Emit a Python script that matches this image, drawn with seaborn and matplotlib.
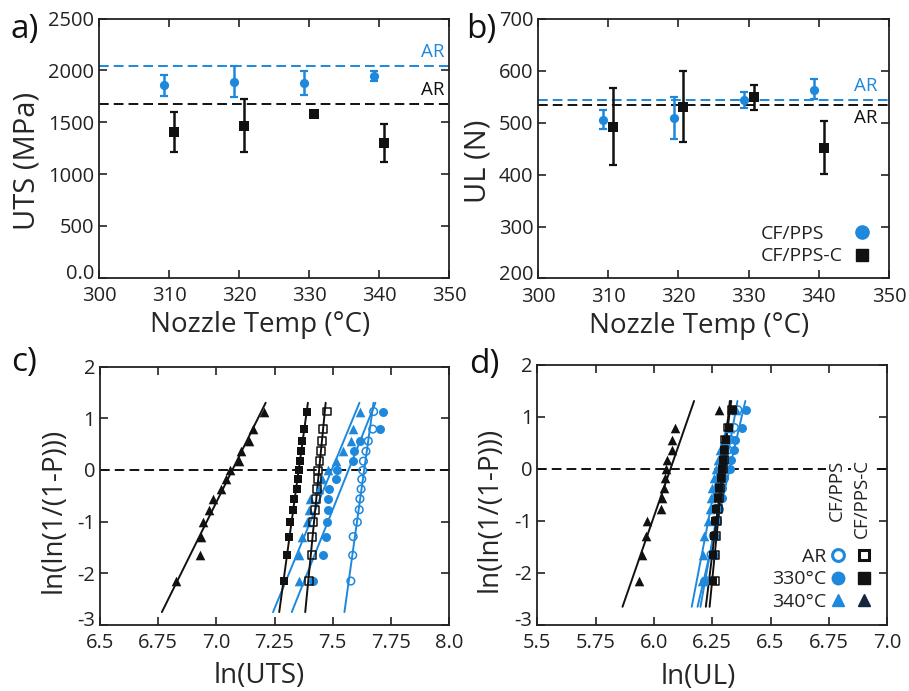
import numpy as np
import pandas as pd
import matplotlib
matplotlib.use("Agg")
import matplotlib.pyplot as plt
import matplotlib.transforms as mtransforms
import seaborn as sns
from matplotlib.lines import Line2D

blue = "#1d88dc"
black = "#111111"

# a) and b): nozzle temperature series
temps = [310, 320, 330, 340]
uts_pps = [1856, 1891, 1875, 1949]
uts_pps_lo = [1749, 1740, 1759, 1895]
uts_pps_hi = [1955, 2039, 1991, 1995]
uts_ppsc = [1411, 1466, 1582, 1298]
uts_ppsc_lo = [1218, 1218, 1582, 1121]
uts_ppsc_hi = [1604, 1723, 1582, 1485]
uts_ar = [2042, 1672]  # CF/PPS, CF/PPS-C

ul_pps = [505, 509, 543, 563]
ul_pps_lo = [487, 469, 528, 545]
ul_pps_hi = [525, 550, 558, 584]
ul_ppsc = [491, 530, 549, 452]
ul_ppsc_lo = [419, 462, 525, 401]
ul_ppsc_hi = [566, 599, 572, 504]
ul_ar = [544, 534]

# c) and d): weibull plots, y = ln(ln(1/(1-P)))
rank_y = [-2.15, -1.65, -1.29, -1.01, -0.77, -0.56, -0.37, -0.18, -0.01, 0.17, 0.36, 0.56, 0.79, 1.13]

c_pps_ar = [7.578, 7.586, 7.588, 7.606, 7.614, 7.617, 7.622, 7.625, 7.629, 7.632, 7.643, 7.653, 7.672, 7.676]
c_pps_330 = [7.417, 7.460, 7.471, 7.474, 7.479, 7.481, 7.485, 7.514, 7.517, 7.586, 7.592, 7.617, 7.703, 7.717]
c_pps_340 = [7.355, 7.357, 7.367, 7.390, 7.397, 7.404, 7.440, 7.453, 7.481, 7.515, 7.546, 7.577, 7.586, 7.617]
c_ppsc_ar = [7.400, 7.410, 7.412, 7.417, 7.424, 7.428, 7.431, 7.435, 7.438, 7.443, 7.449, 7.453, 7.457, 7.477]
c_ppsc_330 = [7.291, 7.305, 7.312, 7.317, 7.331, 7.335, 7.345, 7.352, 7.356, 7.359, 7.364, 7.370, 7.378, 7.388]
c_ppsc_340 = [6.827, 6.930, 6.933, 6.941, 6.968, 6.987, 7.019, 7.041, 7.059, 7.099, 7.105, 7.142, 7.159, 7.205]

d_pps_ar = [6.225, 6.245, 6.255, 6.265, 6.272, 6.280, 6.287, 6.294, 6.300, 6.310, 6.318, 6.328, 6.345, 6.360]
d_pps_330 = [6.213, 6.256, 6.262, 6.270, 6.281, 6.291, 6.293, 6.301, 6.327, 6.330, 6.344, 6.347, 6.377, 6.395]
d_pps_340 = [6.205, 6.212, 6.214, 6.234, 6.241, 6.244, 6.248, 6.256, 6.265, 6.275, 6.285, 6.300, 6.325, 6.350]
d_ppsc_ar = [6.262, 6.262, 6.268, 6.270, 6.275, 6.280, 6.285, 6.290, 6.296, 6.300, 6.303, 6.306, 6.318, 6.334]
d_ppsc_330 = [6.252, 6.252, 6.258, 6.262, 6.268, 6.274, 6.280, 6.286, 6.292, 6.298, 6.302, 6.310, 6.322, 6.340]
d_ppsc_340 = [5.937, 5.949, 5.967, 5.970, 6.030, 6.035, 6.042, 6.049, 6.053, 6.058, 6.077, 6.077, 6.092, 6.277]

c_xticks = [6.5, 6.75, 7.0, 7.25, 7.5, 7.75, 8.0]
c_xlabels = ["6.5", "6.75", "7.0", "7.25", "7.5", "7.75", "8.0"]
d_xticks = [5.5, 5.75, 6.0, 6.25, 6.5, 6.75, 7.0]
d_xlabels = ["5.5", "5.75", "6.0", "6.25", "6.5", "6.75", "7.0"]
w_yticks = [-3, -2, -1, 0, 1, 2]
w_ylabels = ["-3", "-2", "-1", "0", "1", "2"]
uts_yticks = [0, 500, 1000, 1500, 2000, 2500]
uts_ylabels = ["0.0", "500", "1000", "1500", "2000", "2500"]

sns.set_theme(style="ticks")
plt.rcParams["font.family"] = ["Open Sans", "DejaVu Sans"]
plt.rcParams["axes.linewidth"] = 1.3
plt.rcParams["axes.edgecolor"] = "#222222"

fig = plt.figure(figsize=(9.09, 6.91), dpi=100)
ax_a = fig.add_axes([0.109, 0.598, 0.385, 0.375])
ax_b = fig.add_axes([0.592, 0.597, 0.386, 0.376])
ax_c = fig.add_axes([0.110, 0.0955, 0.384, 0.374])
ax_d = fig.add_axes([0.591, 0.0955, 0.385, 0.377])

TICK = 14.5
LABEL = 20
dash = (0, (5, 2.6))
dodge = 0.7


def style(ax):
    ax.tick_params(direction="in", length=6, width=1.2, top=True, right=True,
                   labelsize=TICK, colors="#222222")
    ax.tick_params(axis="x", pad=6)
    ax.tick_params(axis="y", pad=3.5)


def lift_bottom_label(ax):
    # the lowest y label sits a little above its tick, clear of the x labels
    lab = ax.get_yticklabels()[0]
    lab.set_transform(lab.get_transform() +
                      mtransforms.ScaledTranslation(0, 4.5 / 72, fig.dpi_scale_trans))


def temp_panel(ax, pps, lo1, hi1, ppsc, lo2, hi2, ar):
    x1 = [t - dodge for t in temps]
    x2 = [t + dodge for t in temps]
    ax.errorbar(x1, pps, yerr=[np.subtract(pps, lo1), np.subtract(hi1, pps)], fmt="none",
                ecolor=blue, elinewidth=1.8, capsize=3, capthick=1.6, zorder=2)
    ax.errorbar(x2, ppsc, yerr=[np.subtract(ppsc, lo2), np.subtract(hi2, ppsc)], fmt="none",
                ecolor=black, elinewidth=1.8, capsize=3, capthick=1.6, zorder=2)
    sns.scatterplot(x=x1, y=pps, ax=ax, color=blue, marker="o", s=44, edgecolor=blue,
                    linewidth=0, zorder=3, legend=False)
    sns.scatterplot(x=x2, y=ppsc, ax=ax, color=black, marker="s", s=42, edgecolor=black,
                    linewidth=0, zorder=3, legend=False)
    ax.axhline(ar[0], color=blue, ls=dash, lw=1.4, zorder=1)
    ax.axhline(ar[1], color=black, ls=dash, lw=1.4, zorder=1)
    ax.set_xlim(300, 350)
    ax.set_xticks([300, 310, 320, 330, 340, 350])
    ax.set_xlabel("Nozzle Temp (°C)", fontsize=LABEL)
    ax.xaxis.set_label_coords(0.46, -0.13)
    style(ax)


# a)
temp_panel(ax_a, uts_pps, uts_pps_lo, uts_pps_hi, uts_ppsc, uts_ppsc_lo, uts_ppsc_hi, uts_ar)
ax_a.set_ylim(0, 2500)
ax_a.set_yticks(uts_yticks)
ax_a.set_yticklabels(uts_ylabels)
ax_a.set_ylabel("UTS (MPa)", fontsize=21)
ax_a.yaxis.set_label_coords(-0.165, 0.45)
ax_a.text(349.3, uts_ar[0] + 50, "AR", color=blue, fontsize=13.5, ha="right", va="bottom")
ax_a.text(349.3, uts_ar[1] + 50, "AR", color=black, fontsize=13.5, ha="right", va="bottom")

# b)
temp_panel(ax_b, ul_pps, ul_pps_lo, ul_pps_hi, ul_ppsc, ul_ppsc_lo, ul_ppsc_hi, ul_ar)
ax_b.set_ylim(200, 700)
ax_b.set_yticks([200, 300, 400, 500, 600, 700])
ax_b.set_ylabel("UL (N)", fontsize=21)
ax_b.yaxis.set_label_coords(-0.131, 0.45)
ax_b.text(348.3, ul_ar[0] + 9, "AR", color=blue, fontsize=13.5, ha="right", va="bottom")
ax_b.text(348.3, ul_ar[1] - 8, "AR", color=black, fontsize=13.5, ha="right", va="top")
blank = Line2D([], [], ls="none")
leg_b = ax_b.legend(
    [blank, blank,
     Line2D([], [], ls="none", marker="o", color=blue, ms=9.5),
     Line2D([], [], ls="none", marker="s", color=black, ms=8)],
    ["CF/PPS", "CF/PPS-C", "", ""], ncol=2, frameon=False, fontsize=14,
    loc="lower right", bbox_to_anchor=(0.923, 0.05), borderpad=0, borderaxespad=0,
    handlelength=0.0, handletextpad=0.0, columnspacing=1.0, labelspacing=0.25)
for t in leg_b.get_texts():
    t.set_color("#222222")


def weibull_panel(ax, series, span):
    for xs, color, marker, filled, size in series:
        df = pd.DataFrame({"x": xs, "y": rank_y})
        if filled:
            sns.scatterplot(data=df, x="x", y="y", ax=ax, color=color, marker=marker, s=size,
                            edgecolor=color, linewidth=0, zorder=3, legend=False)
        else:
            sns.scatterplot(data=df, x="x", y="y", ax=ax, color=color, marker=marker, s=size,
                            facecolors="none", edgecolor=color, linewidth=1.1, zorder=3,
                            legend=False)
        # weibull fit line, ln(strength) regressed on the rank value
        m, b = np.polyfit(rank_y, xs, 1)
        yy = np.array(span)
        ax.plot(m * yy + b, yy, color=color, lw=1.4, zorder=2)
    ax.axhline(0, color=black, ls=dash, lw=1.4, zorder=1)
    ax.set_ylim(-3, 2)
    ax.set_yticks(w_yticks)
    ax.set_yticklabels(w_ylabels)
    ax.set_ylabel("ln(ln(1/(1-P)))", fontsize=LABEL)
    style(ax)


# c)
weibull_panel(ax_c, [
    (c_pps_ar, blue, "o", False, 30),
    (c_pps_330, blue, "o", True, 42),
    (c_pps_340, blue, "^", True, 48),
    (c_ppsc_ar, black, "s", False, 32),
    (c_ppsc_330, black, "s", True, 40),
    (c_ppsc_340, black, "^", True, 48),
], [-2.75, 1.3])
ax_c.set_xlim(6.5, 8.0)
ax_c.set_xticks(c_xticks)
ax_c.set_xticklabels(c_xlabels)
ax_c.set_xlabel("ln(UTS)", fontsize=LABEL)
ax_c.xaxis.set_label_coords(0.455, -0.145)
ax_c.yaxis.set_label_coords(-0.092, 0.445)

# d)
weibull_panel(ax_d, [
    (d_pps_ar, blue, "o", False, 30),
    (d_pps_330, blue, "o", True, 42),
    (d_pps_340, blue, "^", True, 48),
    (d_ppsc_ar, black, "s", False, 32),
    (d_ppsc_330, black, "s", True, 40),
    (d_ppsc_340, black, "^", True, 48),
], [-2.65, 1.3])
ax_d.set_xlim(5.5, 7.0)
ax_d.set_xticks(d_xticks)
ax_d.set_xticklabels(d_xlabels)
ax_d.set_xlabel("ln(UL)", fontsize=LABEL)
ax_d.xaxis.set_label_coords(0.46, -0.145)
ax_d.yaxis.set_label_coords(-0.097, 0.445)

leg_d = ax_d.legend(
    [Line2D([], [], ls="none", marker="o", mfc="none", mec=blue, mew=2.2, ms=8.5),
     Line2D([], [], ls="none", marker="o", color=blue, ms=9),
     Line2D([], [], ls="none", marker="^", color=blue, ms=9),
     Line2D([], [], ls="none", marker="s", mfc="none", mec=black, mew=2.2, ms=7.5),
     Line2D([], [], ls="none", marker="s", color=black, ms=8),
     Line2D([], [], ls="none", marker="^", color="#15243f", ms=9)],
    ["AR", "330°C", "340°C", "", "", ""], ncol=2, frameon=False, fontsize=14,
    markerfirst=False, loc="lower right", bbox_to_anchor=(0.955, 0.055), borderpad=0,
    borderaxespad=0, handlelength=0.8, handletextpad=0.2, columnspacing=0.3,
    labelspacing=0.22)
for t in leg_d.get_texts():
    t.set_color("#222222")
box = dict(facecolor="white", edgecolor="none", pad=1.5)
ax_d.text(0.857, 0.636, "CF/PPS", rotation=90, ha="center", va="top", fontsize=13.5,
          color="#222222", transform=ax_d.transAxes, bbox=box)
ax_d.text(0.929, 0.636, "CF/PPS-C", rotation=90, ha="center", va="top", fontsize=13.5,
          color="#222222", transform=ax_d.transAxes, bbox=box)

for ax in (ax_a, ax_b, ax_c, ax_d):
    lift_bottom_label(ax)

# panel letters
for x, y, s in [(0.012, 0.957, "a)"), (0.513, 0.957, "b)"), (0.012, 0.476, "c)"), (0.516, 0.472, "d)")]:
    fig.text(x, y, s, fontsize=24, va="center", ha="left", color="#111111")

fig.savefig("out.png", dpi=100)
